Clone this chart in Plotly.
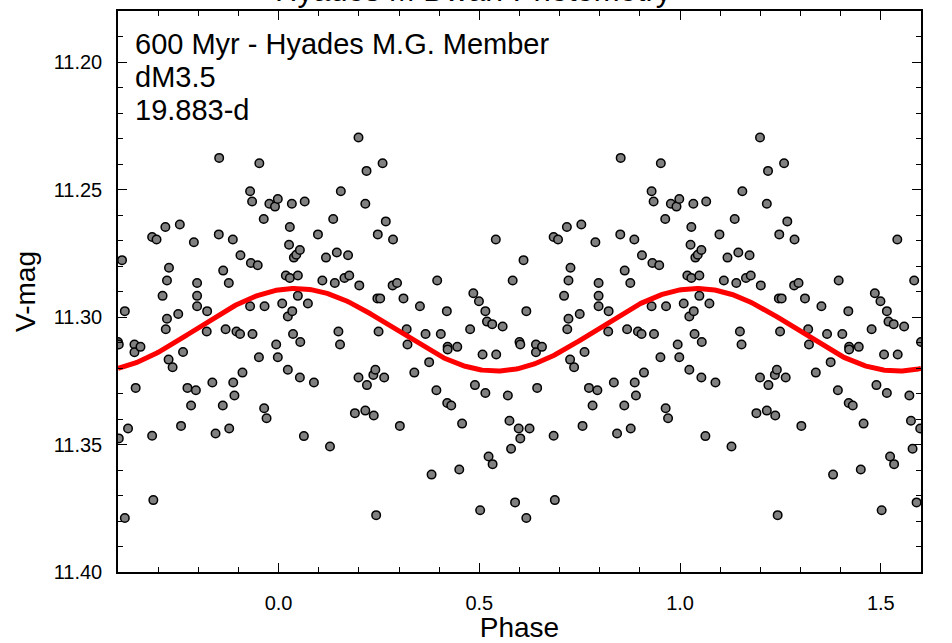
import numpy as np
import plotly.graph_objects as go

# Phase-folded V-band light curve (one cycle, phase 0..1)
phase = [
    0.009, 0.018, 0.023, 0.023, 0.026, 0.028, 0.028, 0.033, 0.034, 0.036,
    0.038, 0.044, 0.048, 0.048, 0.053, 0.053, 0.054, 0.063, 0.065, 0.073,
    0.088, 0.098, 0.109, 0.118, 0.128, 0.136, 0.140, 0.145, 0.149, 0.153,
    0.155, 0.164, 0.173, 0.176, 0.190, 0.199, 0.199, 0.201, 0.216, 0.216,
    0.219, 0.220, 0.236, 0.237, 0.241, 0.243, 0.246, 0.247, 0.249,
    0.253, 0.259, 0.263, 0.267, 0.284, 0.285, 0.295, 0.302, 0.311, 0.319,
    0.321, 0.338, 0.352, 0.366, 0.375, 0.381, 0.393, 0.395, 0.404, 0.419,
    0.420, 0.421, 0.421, 0.430, 0.445, 0.450, 0.457, 0.477, 0.485, 0.489,
    0.499, 0.502, 0.508, 0.515, 0.515, 0.519, 0.523, 0.532, 0.533, 0.541,
    0.542, 0.558, 0.571, 0.575, 0.579, 0.583, 0.589, 0.598, 0.600, 0.602,
    0.602, 0.610, 0.617, 0.617, 0.625, 0.641, 0.641, 0.644, 0.656, 0.685,
    0.685, 0.688, 0.696, 0.711, 0.718, 0.719, 0.722, 0.722, 0.726, 0.727,
    0.736, 0.750, 0.754, 0.757, 0.762, 0.773, 0.782, 0.789, 0.794, 0.797,
    0.797, 0.797, 0.821, 0.822, 0.835, 0.843, 0.851, 0.852, 0.861, 0.862,
    0.868, 0.876, 0.877, 0.886, 0.887, 0.890, 0.895, 0.904, 0.905, 0.910,
    0.929, 0.929, 0.931, 0.934, 0.935, 0.948, 0.951, 0.952, 0.963, 0.964,
    0.965, 0.970, 0.977, 0.991, 0.994, 0.998, 0.998,
]
vmag = [
    11.2947, 11.2837, 11.2998, 11.3207, 11.2717, 11.2847, 11.2647, 11.2556, 11.2977, 11.3067,
    11.2767, 11.2756, 11.2837, 11.2917, 11.2737, 11.3237, 11.3098, 11.3467, 11.2547, 11.2947,
    11.3257, 11.2676, 11.2857, 11.2767, 11.3508, 11.2616, 11.2867, 11.2747, 11.3057, 11.3108,
    11.2507, 11.2847, 11.2758, 11.2837, 11.3377, 11.2296, 11.3237, 11.2876, 11.2556, 11.3367,
    11.2427, 11.3267, 11.3227, 11.3386, 11.3207, 11.3777, 11.2927, 11.2676, 11.3057,
    11.2927, 11.2397, 11.3237, 11.2625, 11.2876, 11.2696, 11.2867, 11.3427, 11.2927, 11.3048,
    11.3108, 11.3218, 11.2958, 11.3067, 11.3177, 11.3618, 11.3287, 11.2857, 11.3067, 11.2977,
    11.3337, 11.3117, 11.3127, 11.3347, 11.3117, 11.3598, 11.3418, 11.3048, 11.2907, 11.3267,
    11.2938, 11.3758, 11.3147, 11.2977, 11.3298, 11.3018, 11.3547, 11.3028, 11.3577, 11.2696,
    11.3147, 11.3037, 11.3308, 11.3407, 11.3517, 11.2857, 11.3727, 11.3437, 11.3098, 11.3108,
    11.3476, 11.2777, 11.2977, 11.3788, 11.3437, 11.3108, 11.3138, 11.3278, 11.3117, 11.2686,
    11.3466, 11.3718, 11.2696, 11.2917, 11.2647, 11.3048, 11.2857, 11.3007, 11.3167, 11.2807,
    11.3197, 11.2988, 11.2637, 11.3427, 11.3137, 11.3278, 11.3347, 11.2707, 11.3287, 11.2867,
    11.2917, 11.2958, 11.3057, 11.2977, 11.3257, 11.3457, 11.2676, 11.2376, 11.3347, 11.2818,
    11.3048, 11.2867, 11.3437, 11.2696, 11.3257, 11.3308, 11.3057, 11.3067, 11.2758, 11.3218,
    11.2507, 11.2958, 11.2788, 11.2547, 11.3067, 11.2797, 11.3158, 11.2397, 11.2616, 11.3358,
    11.2958, 11.3397, 11.2556, 11.2567, 11.3108, 11.2537, 11.3158,
]

# Sinusoidal fit to the folded light curve
fit_mean = 11.305
fit_amp = 0.0162
fit_phase0 = 0.042

info_lines = ["600 Myr - Hyades M.G. Member", "dM3.5", "19.883-d"]
title_text = "Hyades M Dwarf Photometry"

x_min, x_max = -0.4, 1.6
y_bright, y_faint = 11.18, 11.40

# Repeat the cycle so the plot spans more than one period
px, py = [], []
for p, m in zip(phase, vmag):
    for shift in (-1.0, 0.0, 1.0):
        q = p + shift
        if x_min <= q <= x_max:
            px.append(q)
            py.append(m)

xc = np.linspace(x_min, x_max, 600)
yc = fit_mean - fit_amp * np.cos(2 * np.pi * (xc - fit_phase0))

FONT = "Liberation Sans, Arial, Helvetica, sans-serif"
NARROW = "Liberation Sans Narrow, Arial Narrow, Liberation Sans, sans-serif"

fig = go.Figure()
fig.add_trace(go.Scatter(
    x=px, y=py, mode="markers",
    marker=dict(size=8.5, color="#808080", line=dict(color="black", width=1.5)),
    showlegend=False, hoverinfo="skip",
))
fig.add_trace(go.Scatter(
    x=xc, y=yc, mode="lines",
    line=dict(color="#ff0000", width=5),
    showlegend=False, hoverinfo="skip",
))

axis_common = dict(
    showgrid=False, zeroline=False, automargin=False,
    showline=True, linecolor="black", linewidth=1.5,
    mirror="ticks", ticks="inside", ticklen=9, tickwidth=1.3, tickcolor="black",
    tickfont=dict(family=FONT, size=20, color="black"),
)

fig.update_xaxes(
    range=[x_min, x_max], tick0=0, dtick=0.5, tickformat=".1f",
    minor=dict(dtick=0.1, tick0=0, ticks="inside", ticklen=5, tickwidth=1.2, tickcolor="black"),
    title=dict(text="Phase", font=dict(family=FONT, size=28, color="black"), standoff=6),
    ticklabelstandoff=12,
    **axis_common,
)
fig.update_yaxes(
    range=[y_faint, y_bright], tick0=11.2, dtick=0.05, tickformat=".2f",
    minor=dict(dtick=0.01, tick0=11.2, ticks="inside", ticklen=5, tickwidth=1.2, tickcolor="black"),
    title=dict(text="V-mag", font=dict(family=FONT, size=28, color="black"), standoff=10),
    ticklabelstandoff=10,
    **axis_common,
)

line_y = [44.5, 77.0, 110.0]
for txt, yy in zip(info_lines, line_y):
    fig.add_annotation(
        text=txt, xref="paper", yref="paper",
        x=(133 - 118) / 803, y=1 - (yy - 11) / 561,
        xanchor="left", yanchor="middle", align="left", showarrow=False,
        font=dict(family=FONT, size=29, color="black"),
    )

fig.update_layout(
    width=952, height=643,
    margin=dict(l=118, r=31, t=11, b=71),
    paper_bgcolor="white", plot_bgcolor="white",
    title=dict(text=title_text, x=0.497, xanchor="center", xref="container",
               y=1 - 1 / 643, yref="container", yanchor="bottom",
               font=dict(family=NARROW, size=31, color="black")),
)

fig.write_html("out.html")
